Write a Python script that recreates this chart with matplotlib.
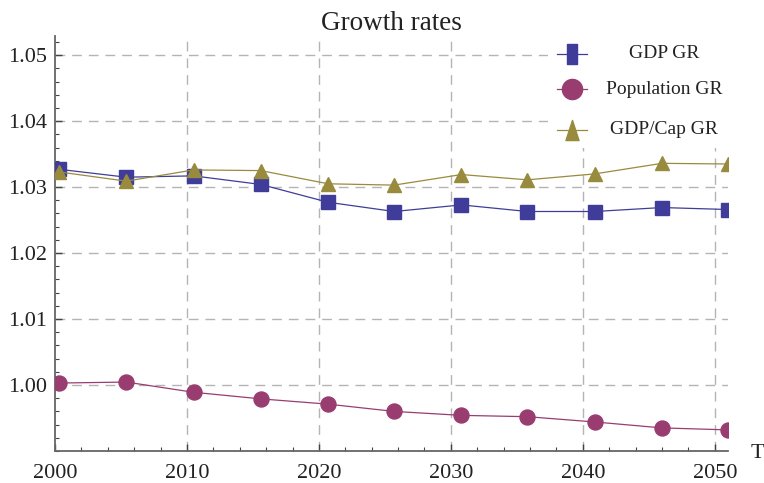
import matplotlib
matplotlib.use("Agg")
import matplotlib.pyplot as plt
from matplotlib.lines import Line2D
from matplotlib.patches import Rectangle
from matplotlib.path import Path
from matplotlib.ticker import MultipleLocator

years = [2000.3, 2005.4, 2010.5, 2015.6, 2020.7, 2025.7, 2030.8, 2035.8, 2040.9, 2046.0, 2051.0]
gdp_gr = [1.0327, 1.0315, 1.0317, 1.0304, 1.0277, 1.0263, 1.0273, 1.0263, 1.0263, 1.0269, 1.0266]
pop_gr = [1.0003, 1.00045, 0.9989, 0.9979, 0.9971, 0.9960, 0.9954, 0.9952, 0.9944, 0.9935, 0.9932]
gdpcap_gr = [1.0323, 1.0309, 1.0326, 1.0325, 1.0305, 1.0303, 1.0319, 1.0311, 1.0320, 1.0336, 1.0335]
labels = ["GDP GR", "Population GR", "GDP/Cap GR"]
xticks = [2000, 2010, 2020, 2030, 2040, 2050]
yticks = [1.00, 1.01, 1.02, 1.03, 1.04, 1.05]

c_gdp = "#3f3d99"
c_pop = "#993d71"
c_cap = "#998b3d"

plt.rcParams["font.family"] = ["Liberation Serif", "DejaVu Serif"]

fig = plt.figure(figsize=(7.64, 4.83), dpi=100)
ax = fig.add_axes([55 / 764, (483 - 451) / 483, (728 - 55) / 764, (451 - 36) / 483])

ax.set_xlim(2000, 2051)
ax.set_ylim(0.990, 1.0529)

grid_kw = dict(color="#b4b4b4", lw=1.0, dashes=(7, 5), zorder=0)
for xt in xticks[1:]:
    ax.axvline(xt, **grid_kw)
for yt in yticks:
    ax.axhline(yt, **grid_kw)

# legend background box (white) covering gridlines
ax.add_patch(Rectangle(((548 - 55) / (728 - 55), (451 - 148) / (451 - 36)),
                       (728 - 548) / (728 - 55), (148 - 36) / (451 - 36) + 0.01,
                       transform=ax.transAxes, facecolor="white", edgecolor="none",
                       zorder=1, clip_on=False))

ax.plot(years, gdp_gr, color=c_gdp, lw=0.9, marker="s", ms=9.5, zorder=3)
ax.plot(years, pop_gr, color=c_pop, lw=0.9, marker="o", ms=10.8, zorder=3)
ax.plot(years, gdpcap_gr, color=c_cap, lw=0.9, marker="^", ms=9.5, zorder=3)

for s in ["top", "right"]:
    ax.spines[s].set_visible(False)
for s in ["left", "bottom"]:
    ax.spines[s].set_color("#666666")
    ax.spines[s].set_linewidth(1.3)

ax.set_xticks(xticks)
ax.set_yticks(yticks)
ax.set_yticklabels(["%.2f" % v for v in yticks])
ax.xaxis.set_minor_locator(MultipleLocator(2))
ax.yaxis.set_minor_locator(MultipleLocator(0.002))
ax.tick_params(which="major", direction="in", length=5, width=1.0, color="#444444",
               labelsize=16, labelcolor="#222222")
ax.tick_params(axis="y", which="major", pad=6)
ax.tick_params(axis="x", which="major", pad=9)
ax.tick_params(which="minor", direction="in", length=3, width=0.8, color="#444444")

ax.set_title("Growth rates", fontsize=19.5, color="#222222", pad=3)
ax.text((757 - 55) / (728 - 55), (451 - 453) / (451 - 36), "T", transform=ax.transAxes,
        fontsize=16, color="#222222", ha="center", va="center")

# manual legend
rect_marker = Path([(-0.5, -1), (0.5, -1), (0.5, 1), (-0.5, 1), (-0.5, -1)],
                   [Path.MOVETO, Path.LINETO, Path.LINETO, Path.LINETO, Path.CLOSEPOLY])
tri_marker = Path([(0, 1), (-0.65, -1), (0.65, -1), (0, 1)],
                  [Path.MOVETO, Path.LINETO, Path.LINETO, Path.CLOSEPOLY])
leg_rows = [(54, c_gdp, rect_marker, 14.5), (89, c_pop, "o", 14.5), (130, c_cap, tri_marker, 14.5)]
for (ypix, col, mk, ms), lab in zip(leg_rows, labels):
    yax = (451 - ypix) / (451 - 36)
    x0 = (557 - 55) / (728 - 55)
    x1 = (587 - 55) / (728 - 55)
    xm = (572 - 55) / (728 - 55)
    ax.add_line(Line2D([x0, x1], [yax, yax], color=col, lw=0.9, transform=ax.transAxes,
                       zorder=4, clip_on=False))
    ax.add_line(Line2D([xm], [yax], color=col, marker=mk, ms=ms, lw=0,
                       transform=ax.transAxes, zorder=4, clip_on=False))
    ax.text((664 - 55) / (728 - 55), yax, lab, transform=ax.transAxes, fontsize=14,
            ha="center", va="center", color="#222222", zorder=5)

fig.savefig("out.png", dpi=100)
